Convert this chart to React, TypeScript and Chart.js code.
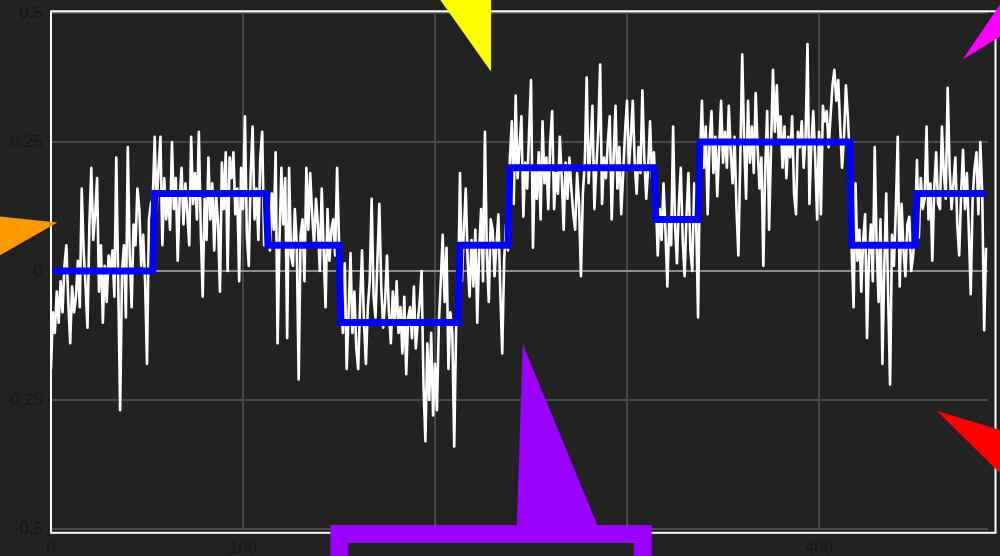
import React, { useEffect, useRef } from "react";
import { Chart, registerables } from "chart.js";

Chart.register(...registerables);

// ---- data -------------------------------------------------------------

// Noisy measurement, one value per sample index (0..487)
const samples: number[] = [
  // 0..53
  -0.19, -0.08, -0.12, -0.04, -0.10, -0.02, -0.08, 0.01, 0.05, -0.06,
  -0.14, -0.03, -0.08, -0.05, 0.02, -0.07, 0.16, 0.04, -0.03, -0.11,
  0.09, 0.20, 0.06, 0.11, 0.18, -0.04, 0.05, -0.10, 0.01, -0.06,
  0.03, 0.00, 0.04, -0.05, 0.22, -0.02, -0.27, 0.00, 0.05, -0.09,
  0.24, 0.03, -0.07, 0.09, 0.05, 0.16, 0.12, 0.01, 0.07, -0.02,
  -0.18, 0.10, 0.13, 0.14,
  // 54..112
  0.26, 0.12, 0.20, 0.26, 0.05, 0.18, 0.10, 0.15, 0.08, 0.25,
  0.12, 0.18, 0.02, 0.14, 0.20, 0.09, 0.17, 0.11, 0.05, 0.26,
  0.13, 0.19, 0.10, 0.27, 0.08, -0.05, 0.14, 0.06, 0.22, 0.10,
  0.17, 0.04, 0.15, 0.09, -0.04, 0.21, 0.12, 0.23, 0.00, 0.22,
  0.18, 0.23, 0.11, 0.16, -0.02, 0.20, 0.12, 0.30, 0.07, 0.01,
  0.19, 0.28, 0.10, 0.16, 0.06, 0.22, 0.27, 0.05, 0.13,
  // 113..150
  0.10, 0.04, 0.15, 0.08, 0.23, -0.14, 0.06, 0.20, 0.09, 0.18,
  -0.13, 0.20, 0.03, 0.01, 0.12, 0.05, -0.21, 0.07, 0.10, -0.02,
  0.20, 0.08, 0.19, 0.11, 0.05, 0.14, 0.09, 0.00, 0.16, 0.04,
  -0.07, 0.12, 0.02, 0.08, 0.10, 0.03, 0.20, 0.06,
  // 151..212
  -0.05, -0.12, 0.015, -0.19, -0.08, 0.035, -0.12, -0.04, -0.15, -0.19,
  -0.06, 0.04, -0.10, -0.18, -0.07, -0.02, 0.14, -0.05, -0.09, 0.02,
  0.13, -0.03, -0.11, -0.06, 0.03, -0.08, -0.14, -0.04, -0.10, -0.02,
  -0.12, -0.07, -0.16, -0.05, -0.20, -0.09, -0.07, -0.13, -0.03, -0.15,
  -0.10, -0.06, 0.00, -0.22, -0.33, -0.14, -0.25, -0.12, -0.28, -0.18,
  -0.27, -0.10, -0.02, 0.07, -0.06, 0.045, -0.19, -0.08, -0.12, -0.34,
  -0.11, -0.05,
  // 213..238
  0.19, -0.02, 0.08, 0.16, 0.02, -0.05, 0.06, -0.03, 0.08, -0.10,
  0.04, 0.12, -0.02, 0.27, 0.03, -0.06, 0.10, 0.08, -0.01, 0.05,
  0.11, -0.04, -0.16, 0.02, 0.09, 0.04,
  // 239..314
  0.22, 0.29, 0.13, 0.34, 0.18, 0.24, 0.30, 0.105, 0.21, 0.16,
  0.27, 0.37, 0.045, 0.20, 0.14, 0.23, 0.10, 0.29, 0.17, 0.22,
  0.12, 0.25, 0.31, 0.12, 0.19, 0.15, 0.26, 0.18, 0.08, 0.21,
  0.14, 0.22, 0.16, 0.11, 0.08, 0.19, 0.13, -0.01, 0.15, 0.21,
  0.375, 0.17, 0.24, 0.32, 0.12, 0.20, 0.27, 0.40, 0.13, 0.22,
  0.18, 0.25, 0.30, 0.10, 0.22, 0.32, 0.16, 0.24, 0.11, 0.19,
  0.27, 0.33, 0.20, 0.26, 0.33, 0.21, 0.15, 0.24, 0.19, 0.35,
  0.22, 0.14, 0.20, 0.29, 0.18, 0.23,
  // 315..337
  0.14, 0.03, 0.12, 0.06, 0.17, 0.08, -0.03, 0.10, 0.05, 0.28,
  0.09, 0.015, 0.13, 0.20, 0.06, -0.01, 0.11, 0.19, 0.04, 0.00,
  0.17, 0.10, -0.09,
  // 338..416
  0.22, 0.33, 0.20, 0.28, 0.11, 0.25, 0.31, 0.19, 0.26, 0.145,
  0.24, 0.33, 0.21, 0.27, 0.20, 0.32, 0.23, 0.17, 0.26, 0.12,
  0.03, 0.22, 0.42, 0.25, 0.14, 0.33, 0.21, 0.28, 0.19, 0.345,
  0.24, 0.16, 0.22, 0.01, 0.20, 0.31, 0.08, 0.24, 0.39, 0.27,
  0.36, 0.25, 0.30, 0.20, 0.28, 0.18, 0.26, 0.22, 0.30, 0.15,
  0.11, 0.27, 0.24, 0.29, 0.20, 0.26, 0.44, 0.13, 0.25, 0.31,
  0.22, 0.10, 0.27, 0.11, 0.32, 0.29, 0.31, 0.24, 0.30, 0.36,
  0.39, 0.33, 0.37, 0.28, 0.20, 0.26, 0.36, 0.30, 0.22,
  // 417..450
  0.04, -0.07, 0.17, 0.02, 0.08, -0.04, 0.06, 0.11, -0.13, 0.03,
  0.09, -0.02, 0.24, 0.05, -0.06, 0.10, -0.18, 0.01, 0.15, -0.05,
  -0.22, 0.07, 0.01, 0.12, 0.26, -0.03, 0.13, 0.04, -0.01, 0.09,
  0.105, 0.00, 0.03, 0.08,
  // 451..487
  0.215, 0.065, 0.18, 0.12, 0.14, 0.28, 0.10, 0.17, 0.02, 0.16,
  0.23, 0.13, 0.12, 0.28, 0.19, 0.14, 0.355, 0.20, 0.12, 0.17,
  0.22, 0.09, 0.03, 0.15, 0.235, 0.12, 0.19, 0.08, -0.045, 0.14,
  0.20, 0.23, 0.11, 0.25, 0.15, -0.115, 0.045,
];

// Piecewise-constant level: each run starts at stepStarts[i] with stepLevels[i]
const stepStarts: number[] = [0, 54, 113, 151, 213, 239, 315, 338, 417, 451];
const stepLevels: number[] = [0, 0.15, 0.05, -0.1, 0.05, 0.2, 0.1, 0.25, 0.05, 0.15];
const stepEnd = 487;

// Axis ticks
const xTicks: number[] = [0, 100, 200, 300, 400];
const yTicks: number[] = [-0.5, -0.25, 0, 0.25, 0.5];
const xMin = 0;
const xMax = 488;
const yMin = -0.5;
const yMax = 0.5;

// Callout pointers: tip in data units, the two far corners as pixel offsets from the tip
type Pointer = {
  color: string;
  tipX: number;
  tipY: number;
  corners: [number, number][];
  box?: { left: number; right: number; top: number; bottom: number; width: number };
};
const pointers: Pointer[] = [
  { color: "#ffff00", tipX: 229.2, tipY: 0.386, corners: [[-65, -92], [0, -92]] },
  { color: "#ff00ff", tipX: 474.8, tipY: 0.41, corners: [[57, -84], [57, -35]] },
  { color: "#ff9900", tipX: 3.3, tipY: 0.094, corners: [[-77, -8], [-77, 44]] },
  { color: "#ff0000", tipX: 461.3, tipY: -0.271, corners: [[83, 25], [83, 82]] },
  {
    color: "#9900ff",
    tipX: 245.7,
    tipY: -0.1415,
    corners: [[-6, 182], [75, 182]],
    box: { left: -183.5, right: 120, top: 190, bottom: 300, width: 18 },
  },
];

// ---- styling ----------------------------------------------------------

const BG = "#222222";
const GRID = "#4a4a4a";
const ZERO_GRID = "#8e8e8e";
const TICK_TEXT = "#161616";
const FONT = "'Liberation Sans', Arial, sans-serif";

const levelPoints = () => {
  const pts: { x: number; y: number }[] = [];
  stepStarts.forEach((start, i) => {
    const end = i + 1 < stepStarts.length ? stepStarts[i + 1] - 1 : stepEnd;
    pts.push({ x: start, y: stepLevels[i] });
    pts.push({ x: end, y: stepLevels[i] });
  });
  return pts;
};

const framePlugin = {
  id: "frameAndPointers",
  afterDraw(chart: any) {
    const { ctx, chartArea: a, scales } = chart;
    const xs = scales.x;
    const ys = scales.y;
    ctx.save();

    // outer white frame around the plotting region
    ctx.strokeStyle = "#ffffff";
    ctx.lineWidth = 2;
    ctx.strokeRect(a.left, a.top - 1.7, a.right + 7.5 - a.left, a.bottom + 3.8 - (a.top - 1.7));

    for (const p of pointers) {
      const tx = xs.getPixelForValue(p.tipX);
      const ty = ys.getPixelForValue(p.tipY);
      if (p.box) {
        const b = p.box;
        const x0 = tx + b.left;
        const y0 = ty + b.top;
        const w = b.right - b.left;
        const h = b.bottom - b.top;
        ctx.fillStyle = BG;
        ctx.fillRect(x0, y0, w, h);
        ctx.strokeStyle = p.color;
        ctx.lineWidth = b.width;
        ctx.strokeRect(x0, y0, w, h);
      }
      ctx.fillStyle = p.color;
      ctx.beginPath();
      ctx.moveTo(tx, ty);
      for (const [dx, dy] of p.corners) ctx.lineTo(tx + dx, ty + dy);
      ctx.closePath();
      ctx.fill();
    }
    ctx.restore();
  },
};

export default function App() {
  const canvasRef = useRef<HTMLCanvasElement | null>(null);

  useEffect(() => {
    if (!canvasRef.current) return;
    const chart = new Chart(canvasRef.current, {
      type: "line",
      data: {
        datasets: [
          {
            label: "level",
            data: levelPoints(),
            borderColor: "#0000ff",
            borderWidth: 7,
            pointRadius: 0,
            fill: false,
            tension: 0,
            order: 0,
          },
          {
            label: "signal",
            data: samples.map((v, i) => ({ x: i, y: v })),
            borderColor: "#ffffff",
            borderWidth: 2.6,
            borderJoinStyle: "round",
            pointRadius: 0,
            fill: false,
            tension: 0,
            order: 1,
          },
        ],
      },
      options: {
        animation: false,
        responsive: false,
        devicePixelRatio: 1,
        layout: { padding: { top: 13, right: 12, left: 0, bottom: 0 } },
        plugins: {
          legend: { display: false },
          tooltip: { enabled: false },
        },
        scales: {
          x: {
            type: "linear",
            min: xMin,
            max: xMax,
            afterBuildTicks: (s: any) => {
              s.ticks = xTicks.map((v) => ({ value: v }));
            },
            afterFit: (s: any) => {
              s.height = 27;
              s.paddingLeft = 0;
              s.paddingRight = 0;
            },
            border: { display: false },
            grid: { color: GRID, lineWidth: 2, drawTicks: false },
            ticks: {
              color: TICK_TEXT,
              padding: 9,
              maxRotation: 0,
              font: { family: FONT, size: 17 },
              callback: (v: any) => String(v),
            },
          },
          y: {
            type: "linear",
            min: yMin,
            max: yMax,
            afterBuildTicks: (s: any) => {
              s.ticks = yTicks.map((v) => ({ value: v }));
            },
            afterFit: (s: any) => {
              s.width = 51;
              s.paddingTop = 0;
              s.paddingBottom = 0;
            },
            border: { display: false },
            grid: {
              color: (c: any) => (c.tick && c.tick.value === 0 ? ZERO_GRID : GRID),
              lineWidth: 2,
              drawTicks: false,
            },
            ticks: {
              color: TICK_TEXT,
              padding: 8,
              font: { family: FONT, size: 17 },
              callback: (v: any) => String(v),
            },
          },
        },
      },
      plugins: [framePlugin],
    });
    return () => chart.destroy();
  }, []);

  return (
    <div
      style={{
        position: "fixed",
        left: 0,
        top: 0,
        width: 1000,
        height: 556,
        background: BG,
        overflow: "hidden",
      }}
    >
      <canvas ref={canvasRef} width={1000} height={556} style={{ display: "block" }} />
    </div>
  );
}
